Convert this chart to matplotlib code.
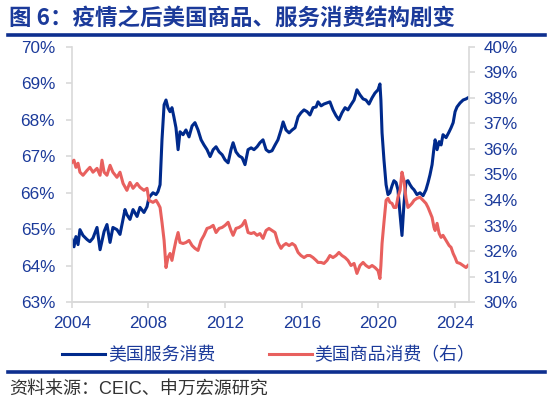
import matplotlib
matplotlib.use("Agg")
import matplotlib.pyplot as plt
from matplotlib.lines import Line2D
from matplotlib.ticker import FuncFormatter

plt.rcParams['font.family'] = ['Liberation Sans', 'Noto Sans CJK SC', 'DejaVu Sans']

# ---- data (share of US personal consumption, %) ----
svc_dates = [2004.02, 2004.12, 2004.22, 2004.33, 2004.43, 2004.59, 2004.80, 2004.95, 2005.11, 2005.32,
             2005.48, 2005.69, 2005.84, 2006.00, 2006.15, 2006.36, 2006.52, 2006.78, 2006.88, 2007.04,
             2007.20, 2007.41, 2007.56, 2007.77, 2007.93, 2008.03, 2008.24, 2008.40, 2008.50, 2008.61,
             2008.71, 2008.82, 2008.92, 2009.02, 2009.13, 2009.23, 2009.33, 2009.44, 2009.55, 2009.65,
             2009.81, 2009.96, 2010.12, 2010.28, 2010.43, 2010.59, 2010.75, 2010.90, 2011.06, 2011.22,
             2011.38, 2011.53, 2011.69, 2011.85, 2012.00, 2012.16, 2012.31, 2012.42, 2012.57, 2012.73,
             2012.89, 2013.04, 2013.20, 2013.36, 2013.51, 2013.67, 2013.82, 2013.98, 2014.14, 2014.29,
             2014.45, 2014.61, 2014.76, 2014.92, 2015.03, 2015.18, 2015.34, 2015.50, 2015.65, 2015.81,
             2015.96, 2016.12, 2016.28, 2016.43, 2016.59, 2016.75, 2016.85, 2017.01, 2017.16, 2017.32,
             2017.47, 2017.63, 2017.79, 2017.94, 2018.10, 2018.26, 2018.41, 2018.57, 2018.73, 2018.88,
             2019.04, 2019.20, 2019.35, 2019.51, 2019.67, 2019.82, 2019.98, 2020.08, 2020.13, 2020.19,
             2020.29, 2020.40, 2020.50, 2020.60, 2020.71, 2020.81, 2020.92, 2021.02, 2021.13, 2021.23,
             2021.33, 2021.44, 2021.54, 2021.65, 2021.75, 2021.86, 2022.01, 2022.17, 2022.33, 2022.48,
             2022.59, 2022.69, 2022.80, 2022.90, 2022.96, 2023.06, 2023.17, 2023.27, 2023.37, 2023.53,
             2023.69, 2023.79, 2023.90, 2024.00, 2024.10, 2024.26, 2024.42, 2024.57, 2024.67]
svc_vals = [64.72, 64.52, 64.80, 64.58, 64.99, 64.83, 64.72, 64.66, 64.76, 65.05,
            64.44, 64.94, 65.13, 64.64, 65.05, 64.99, 64.86, 65.54, 65.40, 65.27,
            65.54, 65.35, 65.60, 65.46, 65.62, 65.87, 66.00, 65.95, 66.03, 66.22,
            67.45, 68.41, 68.54, 68.33, 68.22, 68.33, 68.08, 67.78, 67.18, 67.67,
            67.59, 67.72, 67.53, 67.83, 67.92, 67.72, 67.45, 67.31, 67.18, 66.99,
            67.18, 67.26, 67.12, 67.04, 66.90, 66.82, 67.18, 67.37, 67.12, 67.01,
            66.96, 66.77, 67.18, 67.23, 67.18, 67.26, 67.37, 67.45, 67.18, 67.12,
            67.15, 67.31, 67.45, 67.72, 67.94, 67.72, 67.64, 67.72, 67.78, 68.08,
            68.19, 68.27, 68.22, 68.13, 68.33, 68.35, 68.49, 68.38, 68.43, 68.46,
            68.49, 68.27, 68.11, 68.00, 68.19, 68.33, 68.27, 68.41, 68.54, 68.82,
            68.68, 68.57, 68.54, 68.43, 68.60, 68.73, 68.82, 68.98, 68.54, 67.64,
            66.90, 66.22, 65.95, 66.00, 66.19, 66.33, 66.28, 66.08, 65.40, 64.83,
            65.67, 66.30, 66.33, 66.22, 66.14, 66.08, 65.95, 66.00, 65.92, 66.08,
            66.28, 66.49, 66.77, 67.23, 67.45, 67.18, 67.40, 67.31, 67.59, 67.51,
            67.67, 67.78, 67.92, 68.22, 68.35, 68.46, 68.54, 68.57, 68.60]

gds_dates = [2004.02, 2004.12, 2004.22, 2004.33, 2004.43, 2004.59, 2004.80, 2004.95, 2005.11, 2005.32,
             2005.48, 2005.58, 2005.69, 2005.84, 2006.00, 2006.15, 2006.36, 2006.52, 2006.68, 2006.88,
             2007.04, 2007.20, 2007.41, 2007.56, 2007.77, 2007.93, 2008.03, 2008.24, 2008.40, 2008.50,
             2008.61, 2008.71, 2008.82, 2008.92, 2009.02, 2009.13, 2009.23, 2009.33, 2009.44, 2009.55,
             2009.65, 2009.81, 2009.96, 2010.12, 2010.28, 2010.43, 2010.59, 2010.75, 2010.90, 2011.06,
             2011.22, 2011.38, 2011.53, 2011.69, 2011.85, 2012.00, 2012.16, 2012.31, 2012.42, 2012.57,
             2012.73, 2012.89, 2013.04, 2013.20, 2013.36, 2013.51, 2013.67, 2013.82, 2013.98, 2014.14,
             2014.29, 2014.45, 2014.61, 2014.76, 2014.92, 2015.03, 2015.18, 2015.34, 2015.50, 2015.65,
             2015.81, 2015.96, 2016.12, 2016.28, 2016.43, 2016.59, 2016.75, 2016.85, 2017.01, 2017.16,
             2017.32, 2017.47, 2017.63, 2017.79, 2017.94, 2018.10, 2018.26, 2018.41, 2018.57, 2018.73,
             2018.88, 2019.04, 2019.20, 2019.35, 2019.51, 2019.67, 2019.82, 2019.98, 2020.08, 2020.13,
             2020.19, 2020.29, 2020.40, 2020.50, 2020.60, 2020.71, 2020.81, 2020.92, 2021.02, 2021.13,
             2021.23, 2021.33, 2021.44, 2021.54, 2021.65, 2021.75, 2021.86, 2022.01, 2022.17, 2022.33,
             2022.48, 2022.59, 2022.69, 2022.80, 2022.90, 2022.96, 2023.06, 2023.17, 2023.27, 2023.37,
             2023.53, 2023.69, 2023.79, 2023.90, 2024.00, 2024.10, 2024.26, 2024.42, 2024.57, 2024.67]
gds_vals = [35.48, 35.56, 35.28, 35.44, 35.09, 34.97, 35.16, 35.28, 35.09, 35.24,
            34.97, 35.56, 35.09, 34.97, 35.36, 35.09, 34.89, 35.09, 34.65, 34.38,
            34.69, 34.46, 34.65, 34.50, 34.38, 34.46, 33.99, 33.91, 33.99, 33.87,
            33.71, 33.13, 32.42, 31.36, 31.75, 31.91, 31.64, 32.03, 32.42, 32.73,
            32.34, 32.30, 32.34, 32.42, 32.22, 32.11, 32.03, 32.42, 32.62, 32.89,
            32.93, 33.01, 32.73, 32.89, 32.93, 33.01, 33.13, 32.81, 32.62, 32.89,
            32.93, 33.01, 33.20, 32.73, 32.69, 32.73, 32.62, 32.69, 32.50, 32.81,
            32.89, 32.81, 32.73, 32.34, 32.11, 32.22, 32.30, 32.22, 32.30, 32.22,
            31.95, 31.83, 31.75, 31.83, 31.83, 31.75, 31.64, 31.56, 31.56, 31.52,
            31.64, 31.83, 31.75, 31.83, 31.95, 31.83, 31.75, 31.64, 31.44, 31.52,
            31.13, 31.44, 31.56, 31.44, 31.36, 31.44, 31.36, 31.24, 30.93, 31.44,
            32.30, 33.13, 33.99, 34.07, 33.91, 33.87, 33.71, 33.71, 34.11, 34.38,
            35.09, 34.77, 34.07, 33.71, 33.79, 33.87, 33.99, 34.07, 34.11, 33.99,
            33.87, 33.71, 33.52, 33.32, 32.93, 32.81, 33.09, 32.69, 32.54, 32.62,
            32.42, 32.22, 32.15, 31.91, 31.75, 31.56, 31.52, 31.44, 31.36, 31.44]

x_ticks = [2004, 2008, 2012, 2016, 2020, 2024]
left_ticks = [63, 64, 65, 66, 67, 68, 69, 70]
right_ticks = [30, 31, 32, 33, 34, 35, 36, 37, 38, 39, 40]

label_svc = '美国服务消费'
label_gds = '美国商品消费（右）'
title = '图 6：疫情之后美国商品、服务消费结构剧变'
source = '资料来源：CEIC、申万宏源研究'

# ---- styles ----
BLUE = '#002A8C'
RED = '#E8605E'
TXT = '#1B3A9A'
GRID = '#D9D9D9'
FONTS = ['Liberation Sans', 'Noto Sans CJK SC', 'DejaVu Sans']

fig = plt.figure(figsize=(5.5, 4.07), dpi=100)
ax = fig.add_axes([71.7 / 550, 1 - 302.3 / 407, (468.5 - 71.7) / 550, (302.3 - 46.7) / 407])
ax2 = ax.twinx()

l1, = ax.plot(svc_dates, svc_vals, color=BLUE, lw=2.2, solid_joinstyle='round')
l2, = ax2.plot(gds_dates, gds_vals, color=RED, lw=2.2, solid_joinstyle='round')

ax.set_xlim(2004.0, 2024.70)
ax.set_ylim(63, 70)
ax2.set_ylim(30, 40)
ax.set_xticks(x_ticks)
ax.set_yticks(left_ticks)
ax2.set_yticks(right_ticks)
pct = FuncFormatter(lambda v, p: f'{v:.0f}%')
ax.yaxis.set_major_formatter(pct)
ax2.yaxis.set_major_formatter(pct)

for a in (ax, ax2):
    a.patch.set_visible(False)
    for s in a.spines.values():
        s.set_color(GRID)
        s.set_linewidth(1.2)
    a.spines['top'].set_visible(False)
    a.tick_params(colors=GRID, length=4, width=1.2, labelcolor=TXT, labelsize=12.3)
ax.tick_params(axis='y', pad=8)
ax.tick_params(axis='x', pad=6)
ax2.tick_params(axis='y', pad=7)
ax2.spines['left'].set_visible(False)
ax.spines['right'].set_visible(False)
for lab in ax.get_xticklabels() + ax.get_yticklabels() + ax2.get_yticklabels():
    lab.set_family(FONTS)

# title and rules
fig.text(9 / 550, 1 - 18 / 407, title, fontsize=16.2, fontweight='bold', color='#1B3A9A',
         ha='left', va='center', family=['Noto Sans CJK SC', 'DejaVu Sans'])
fig.add_artist(Line2D([8 / 550, 545 / 550], [1 - 35 / 407] * 2, color='#0E2F8F', lw=2.6))
fig.add_artist(Line2D([8 / 550, 545 / 550], [1 - 372 / 407] * 2, color='#0E2F8F', lw=2.6))

leg = fig.legend([l1, l2], [label_svc, label_gds], loc='center', bbox_to_anchor=(0.489, 1 - 355 / 407),
                 ncol=2, frameon=False, handlelength=2.4, handletextpad=0.15, columnspacing=3.0,
                 prop={'family': ['Noto Sans CJK SC', 'DejaVu Sans'], 'size': 12.9})
for t in leg.get_texts():
    t.set_color(TXT)

fig.text(9 / 550, 1 - 389 / 407, source, fontsize=13, color='#333333', ha='left', va='center',
         family=FONTS)

fig.savefig('out.png', dpi=100)
